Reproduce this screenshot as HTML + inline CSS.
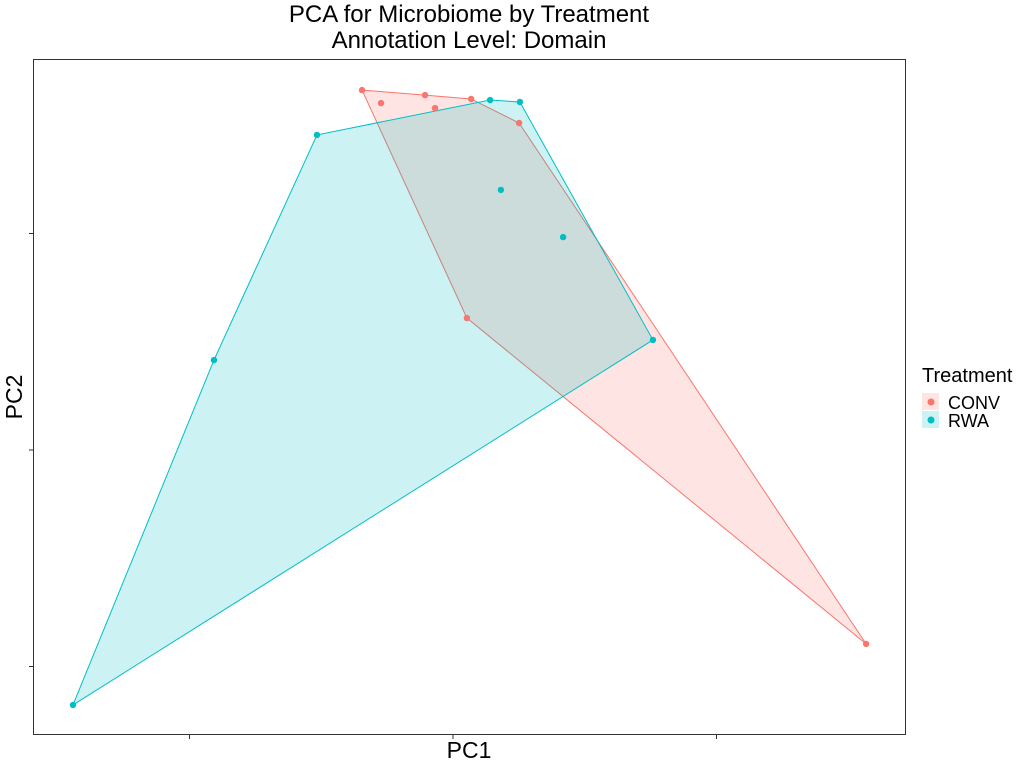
<!DOCTYPE html>
<html><head><meta charset="utf-8"><style>
body{margin:0;background:#fff;}
svg{font-family:"Liberation Sans",sans-serif;}
</style></head><body>
<svg id="chart" width="1024" height="768">
<text x="469" y="22" text-anchor="middle" font-size="24">PCA for Microbiome by Treatment</text>
<text x="469" y="48" text-anchor="middle" font-size="24">Annotation Level: Domain</text>
<g id="plot"></g>
<rect x="33.5" y="59.5" width="872" height="675" fill="none" stroke="#333" stroke-width="1"/>
<text x="469" y="758" text-anchor="middle" font-size="23">PC1</text>
<text transform="translate(22,397) rotate(-90)" text-anchor="middle" font-size="23">PC2</text>
<g>
<text x="922" y="382" font-size="20">Treatment</text>
<g><rect x="922" y="393" width="17" height="17" fill="#F8766D" fill-opacity="0.2"/><circle cx="931" cy="402" r="3.5" fill="#F8766D"/><text x="948" y="409" font-size="18">CONV</text></g>
<g><rect x="922" y="411" width="17" height="17" fill="#00BFC4" fill-opacity="0.2"/><circle cx="931" cy="420" r="3.5" fill="#00BFC4"/><text x="948" y="427" font-size="18">RWA</text></g>
</g>
</svg>
<script>
const convX=[-0.349,-0.277,-0.110,-0.072,0.065,0.247,0.049,1.564];
const convY=[1.667,1.607,1.644,1.584,1.626,1.515,0.614,-0.891];
const rwaX=[-0.520,0.137,0.250,0.178,0.414,0.755,-0.911,-1.446];
const rwaY=[1.460,1.621,1.612,1.206,0.988,0.513,0.420,-1.173];
const xTicks=[-1,0,1];
const yTicks=[-1,0,1];
const sx=v=>454+v*263.5;
const sy=v=>451-v*216.5;
const NS="http://www.w3.org/2000/svg";
const g=document.getElementById('plot');
function hull(pts){
  pts=pts.slice().sort((a,b)=>a[0]-b[0]||a[1]-b[1]);
  const cr=(o,a,b)=>(a[0]-o[0])*(b[1]-o[1])-(a[1]-o[1])*(b[0]-o[0]);
  const lo=[],up=[];
  for(const p of pts){while(lo.length>=2&&cr(lo[lo.length-2],lo[lo.length-1],p)<=0)lo.pop();lo.push(p);}
  for(const p of pts.slice().reverse()){while(up.length>=2&&cr(up[up.length-2],up[up.length-1],p)<=0)up.pop();up.push(p);}
  lo.pop();up.pop();return lo.concat(up);
}
xTicks.forEach(t=>{const l=document.createElementNS(NS,'line');
l.setAttribute('x1',sx(t)-1);l.setAttribute('x2',sx(t)-1);l.setAttribute('y1',735);l.setAttribute('y2',739);l.setAttribute('stroke','#333');


g.appendChild(l);});
yTicks.forEach(t=>{const l=document.createElementNS(NS,'line');
l.setAttribute('x1',29);l.setAttribute('x2',33);l.setAttribute('y1',sy(t)-1);l.setAttribute('y2',sy(t)-1);l.setAttribute('stroke','#333');


g.appendChild(l);});
const series=[["conv",convX,convY,"#F8766D"],["rwa",rwaX,rwaY,"#00BFC4"]];
series.forEach(([n,X,Y,c])=>{
  const pts=X.map((x,i)=>[sx(x),sy(Y[i])]);
  const h=hull(pts);
  const p=document.createElementNS(NS,'polygon');
  p.setAttribute('points',h.map(q=>q.join(',')).join(' '));
  p.setAttribute('fill',c);p.setAttribute('fill-opacity','0.2');p.setAttribute('stroke',c);p.setAttribute('stroke-width','1');
  
  
  g.appendChild(p);
});
series.forEach(([n,X,Y,c])=>{
  X.forEach((x,i)=>{const ci=document.createElementNS(NS,'circle');
  ci.setAttribute('cx',sx(x));ci.setAttribute('cy',sy(Y[i]));ci.setAttribute('r',3.2);ci.setAttribute('fill',c);
  
  
  g.appendChild(ci);});
});
</script>
</body></html>
